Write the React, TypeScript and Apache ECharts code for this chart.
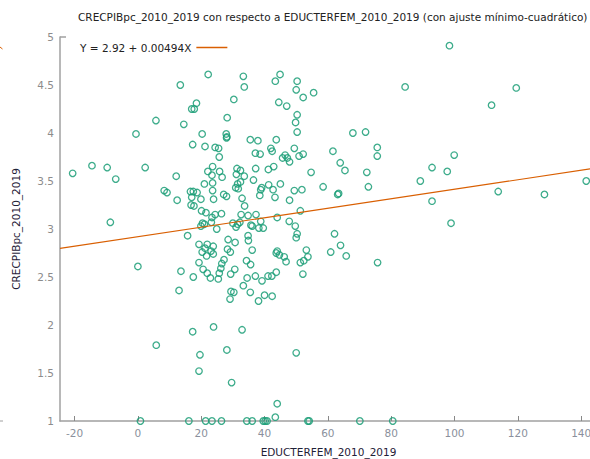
import React, { useEffect, useRef } from "react";
import * as echarts from "echarts";

const titleText =
  "CRECPIBpc_2010_2019 con respecto a EDUCTERFEM_2010_2019 (con ajuste mínimo-cuadrático)";
const xName = "EDUCTERFEM_2010_2019";
const yName = "CRECPIBpc_2010_2019";
const fitLabel = "Y = 2.92 + 0.00494X";
const fitIntercept = 2.92;
const fitSlope = 0.00494;
const xRange = [-24.6, 145];
const yRange = [1, 5];
const yInterval = 0.5;

const educterfem = [
  -20.6, -14.5, -9.7, -8.7, -7.0, -0.6, 0.0, 0.8, 2.3, 5.7,
  5.8, 8.3, 9.2, 12.1, 12.4, 13.0, 13.4, 13.6, 14.5, 15.7,
  16.1, 16.6, 17.5, 18.7, 17.0, 16.8, 17.7, 17.3, 17.0, 17.8,
  18.5, 17.5, 17.3, 19.3, 19.3, 19.6, 19.3, 19.9, 20.3, 19.9,
  20.4, 21.0, 23.2, 24.9, 20.1, 21.5, 23.4, 24.4, 26.4, 21.0,
  23.6, 23.6, 23.9, 22.1, 23.6, 23.4, 25.8, 26.6, 27.1, 28.0,
  21.2, 24.4, 25.5, 25.7, 22.2, 28.2, 27.9, 28.1, 28.0, 30.3,
  33.3, 33.6, 21.9, 21.2, 23.8, 20.3, 21.7, 23.8, 23.1, 20.6,
  21.9, 22.9, 25.4, 25.7, 26.2, 26.5, 27.2, 28.5, 30.7, 28.3,
  29.2, 30.6, 29.3, 34.3, 35.6, 34.5, 33.3, 29.4, 30.3, 29.1,
  23.9, 32.9, 28.1, 29.6, 21.4, 23.4, 26.4, 34.4, 36.1, 39.6,
  40.2, 40.8, 53.7, 54.1, 70.1, 80.5, 43.4, 44.0, 31.3, 32.4,
  31.1, 33.6, 31.5, 30.9, 32.9, 36.5, 37.2, 41.2, 42.9, 45.0,
  38.8, 39.1, 41.3, 38.5, 42.7, 43.3, 49.4, 51.8, 47.9, 58.5,
  63.1, 33.7, 32.6, 34.8, 37.3, 35.7, 36.1, 38.8, 38.2, 39.6,
  44.0, 51.3, 47.8, 49.7, 50.3, 50.0, 31.0, 31.5, 32.2, 30.0,
  34.8, 34.9, 36.1, 37.1, 39.2, 41.1, 42.3, 43.7, 35.5, 38.1,
  40.0, 42.4, 44.0, 44.7, 43.7, 46.2, 46.8, 53.2, 53.7, 52.4,
  51.3, 52.1, 60.9, 62.1, 64.0, 65.8, 75.7, 50.0, 43.4, 44.9,
  50.3, 50.0, 52.2, 55.5, 44.5, 47.0, 50.3, 49.8, 50.3, 35.5,
  37.9, 43.7, 37.1, 38.6, 42.0, 42.4, 45.7, 46.5, 47.2, 47.9,
  49.4, 50.9, 52.2, 54.7, 61.6, 67.9, 71.9, 63.9, 65.4, 72.3,
  63.4, 72.8, 75.6, 75.6, 84.4, 89.2, 92.9, 92.9, 97.7, 98.4,
  98.9, 99.9, 111.7, 113.8, 119.5, 128.4, 141.6, 32.4, 31.7,
];

const crecpib = [
  3.58, 3.66, 3.64, 3.07, 3.52, 3.99, 2.61, 1.0, 3.64, 4.13,
  1.79, 3.4, 3.38, 3.55, 3.3, 2.36, 4.5, 2.56, 4.09, 2.93,
  1.0, 3.39, 3.39, 3.38, 3.33, 3.25, 3.24, 3.88, 4.25, 4.25,
  4.31, 2.5, 1.93, 2.84, 2.65, 1.69, 1.52, 3.31, 3.99, 3.03,
  3.06, 3.05, 3.07, 3.0, 3.19, 3.17, 3.12, 3.15, 3.16, 3.47,
  3.48, 3.4, 3.31, 3.6, 3.65, 3.56, 3.6, 3.54, 3.36, 3.34,
  3.86, 3.85, 3.84, 3.75, 4.61, 4.16, 3.99, 3.96, 3.95, 4.35,
  4.59, 4.48, 2.84, 2.8, 2.82, 2.76, 2.72, 2.74, 2.77, 2.58,
  2.54, 2.49, 2.48, 2.54, 2.59, 2.64, 2.68, 2.89, 2.86, 2.79,
  2.76, 2.58, 2.53, 2.67, 2.63, 2.49, 2.41, 2.35, 2.34, 2.27,
  1.98, 1.95, 1.74, 1.4, 1.0, 1.0, 1.0, 1.0, 1.0, 1.0,
  1.0, 1.0, 1.0, 1.0, 1.0, 1.0, 1.04, 1.18, 3.63, 3.61,
  3.57, 3.55, 3.47, 3.43, 3.32, 3.51, 3.63, 3.62, 3.65, 3.47,
  3.41, 3.43, 3.46, 3.35, 3.41, 3.33, 3.4, 3.41, 3.3, 3.44,
  3.36, 3.24, 3.15, 3.14, 3.15, 3.04, 3.03, 3.08, 3.01, 3.01,
  3.12, 3.19, 3.08, 3.03, 2.95, 2.91, 3.02, 3.05, 3.07, 3.06,
  2.93, 2.88, 2.78, 2.51, 2.46, 2.51, 2.51, 2.55, 2.34, 2.25,
  2.31, 2.3, 2.77, 2.73, 2.75, 2.71, 2.66, 2.78, 2.71, 2.67,
  2.65, 2.53, 2.76, 2.95, 2.83, 2.72, 2.65, 1.71, 4.54, 4.61,
  4.54, 4.45, 4.37, 4.42, 4.32, 4.28, 4.19, 4.11, 4.01, 3.93,
  3.92, 3.93, 3.79, 3.78, 3.84, 3.81, 3.74, 3.77, 3.74, 3.7,
  3.84, 3.76, 3.78, 3.59, 3.81, 4.0, 4.01, 3.69, 3.61, 3.59,
  3.37, 3.44, 3.85, 3.76, 4.48, 3.5, 3.64, 3.29, 3.6, 4.91,
  3.06, 3.77, 4.29, 3.39, 4.47, 3.36, 3.5, 3.49, 3.42,
];

const FONT = "DejaVu Sans";

export default function App() {
  const ref = useRef<HTMLDivElement>(null);
  useEffect(() => {
    if (!ref.current) return;
    const chart = echarts.init(ref.current, null, { renderer: "svg" });
    const points = educterfem.map((x, i) => [x, crecpib[i]]);
    const fitData = xRange.map((x) => [x, fitIntercept + fitSlope * x]);
    chart.setOption({
      animation: false,
      backgroundColor: "#ffffff",
      textStyle: { fontFamily: FONT },
      title: {
        text: titleText,
        left: 78,
        top: 11,
        padding: 0,
        textStyle: { fontFamily: FONT, fontSize: 10.5, fontWeight: "normal", color: "#222" },
      },
      legend: {
        data: [{ name: fitLabel, icon: "rect" }],
        left: 80,
        top: 42,
        padding: 0,
        align: "right",
        itemWidth: 31,
        itemHeight: 1.5,
        itemStyle: { color: "#D95F02" },
        textStyle: { fontFamily: FONT, fontSize: 10.5, color: "#222" },
      },
      grid: {
        left: 60,
        top: 37,
        width: 537,
        height: 384,
        containLabel: false,
        outerBoundsMode: "none",
      },
      xAxis: {
        type: "value",
        min: xRange[0],
        max: xRange[1],
        splitNumber: 8,
        name: xName,
        nameLocation: "middle",
        nameGap: 25,
        nameTextStyle: { fontFamily: FONT, fontSize: 10.5, color: "#1f2238" },
        axisLine: { show: true, onZero: false, lineStyle: { color: "#a0a0a0", width: 1.5 } },
        axisTick: { show: true, inside: true, length: 5, lineStyle: { color: "#888" } },
        axisLabel: {
          showMinLabel: false,
          showMaxLabel: false,
          margin: 6,
          fontFamily: FONT,
          fontSize: 10.5,
          color: "#8a909c",
        },
        splitLine: { show: false },
      },
      yAxis: {
        type: "value",
        min: yRange[0],
        max: yRange[1],
        interval: yInterval,
        name: yName,
        nameLocation: "middle",
        nameGap: 39,
        nameTextStyle: { fontFamily: FONT, fontSize: 10.5, color: "#1f2238" },
        axisLine: { show: true, onZero: false, lineStyle: { color: "#a0a0a0", width: 1.5 } },
        axisTick: { show: false },
        axisLabel: { margin: 6, fontFamily: FONT, fontSize: 10.5, color: "#8c8c8c" },
        splitLine: { show: false },
      },
      series: [
        {
          name: "datos",
          type: "scatter",
          data: points,
          symbol: "circle",
          symbolSize: 6.5,
          itemStyle: {
            color: "rgba(0,0,0,0)",
            borderColor: "#1B9E77",
            borderWidth: 1.3,
            opacity: 0.85,
          },
          z: 2,
        },
        {
          name: fitLabel,
          type: "line",
          data: fitData,
          symbol: "none",
          clip: true,
          lineStyle: { color: "#D95F02", width: 1.2 },
          itemStyle: { color: "#D95F02" },
          z: 3,
        },
      ],
    });
    const top = chart.convertToPixel({ gridIndex: 0 }, [xRange[0], yRange[1]]) as number[];
    chart.setOption({
      graphic: [
        {
          type: "line",
          shape: { x1: top[0], y1: top[1], x2: top[0] + 6, y2: top[1] },
          style: { stroke: "#a0a0a0", lineWidth: 1.5 },
        },
        {
          type: "line",
          shape: { x1: 0, y1: 47, x2: 2.5, y2: 49 },
          style: { stroke: "#D95F02", lineWidth: 1 },
        },
        {
          type: "line",
          shape: { x1: 0, y1: 421, x2: 3, y2: 421 },
          style: { stroke: "#a0a0a0", lineWidth: 1 },
        },
      ],
    });
    return () => chart.dispose();
  }, []);
  return (
    <div
      ref={ref}
      style={{ position: "fixed", left: 0, top: 0, width: 590, height: 459 }}
    />
  );
}
